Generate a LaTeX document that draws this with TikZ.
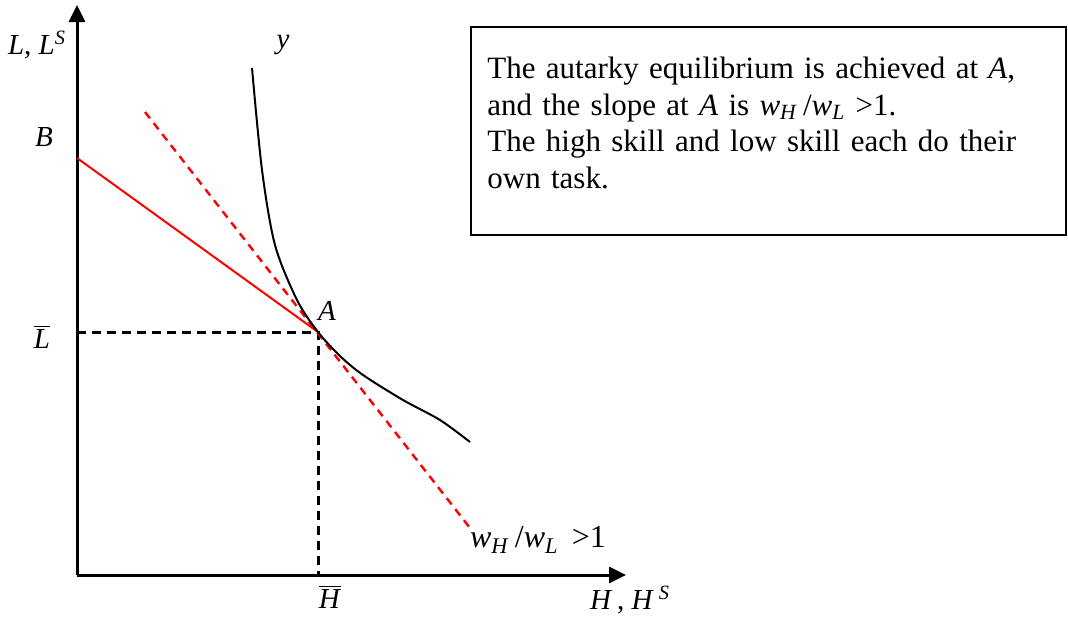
\documentclass[tikz,border=0pt]{standalone}
\usepackage{fontspec}
\setmainfont{Liberation Serif}
\usetikzlibrary{arrows.meta}

\begin{document}
\begin{tikzpicture}[x=0.5pt, y=-0.5pt, >={Triangle[length=8.5pt,width=8pt]},
    lbl/.style={font=\fontsize{14.5}{16}\selectfont, inner sep=0pt}]
    \useasboundingbox (0,0) rectangle (1068,621);

    \coordinate (O) at (77,575);
    \coordinate (Ytop) at (77,5);
    \coordinate (Xend) at (626,575);
    \coordinate (A) at (318,332);
    \coordinate (Lb) at (77,332);
    \coordinate (Hb) at (318,575);

    % axes
    \draw[line width=1.5pt, ->] (O) -- (Ytop);
    \draw[line width=1.5pt, ->] (O) -- (Xend);

    % dashed guides to A
    \draw[line width=1.5pt, dash pattern=on 4.5pt off 3pt] (Lb) -- (A) -- (Hb);

    % budget line from B and tangent at A
    \draw[red, line width=1pt] (77,158) -- (A);
    \draw[red, line width=1.2pt, dash pattern=on 4pt off 3pt] (145,112) -- (470,528);

    % isoquant y
    \draw[line width=1pt] plot[smooth, tension=0.5] coordinates
        {(252,68) (262,170) (275,245) (297,300) (318,332) (340,356)
         (363,375) (403,400) (440,420) (470,442)};

    \node[lbl] (LLS) at (37,45) {\textit{L}, \textit{L}\textsuperscript{\textit{S}}};
    \node[lbl] (ylab) at (283,45) {\textit{y}};
    \node[lbl] (Blab) at (44,137) {\textit{B}};
    \node[lbl] (Lbar) at (42,337) {$\overline{\mbox{\textit{L}}}$};
    \node[lbl] (Alab) at (327,311) {\textit{A}};
    \node[lbl] (Hbar) at (330,597) {$\overline{\mbox{\textit{H}}}$};
    \node[lbl] (HHS) at (630,600) {\textit{H}\,, \textit{H}\,\textsuperscript{\textit{S}}};
    \node[lbl, font=\fontsize{16}{18}\selectfont] (ratio) at (538,540) {\textit{w}\textsubscript{\textit{H}}\,/\textit{w}\textsubscript{\textit{L}} \,{\textgreater}1};

    % note box
    \draw[line width=1pt] (471,27) rectangle (1066,235);
    \node[anchor=north west, inner sep=0pt, text width=300pt, align=left,
          font=\fontsize{15.5}{18.2}\selectfont] (note) at (487,57)
        {The autarky equilibrium is achieved at \textit{A},\\
         and the slope at \textit{A} is \textit{w}\textsubscript{\textit{H}}\,/\textit{w}\textsubscript{\textit{L}} {\textgreater}1.\\
         The high skill and low skill each do their\\
         own task.};
\end{tikzpicture}
\end{document}
